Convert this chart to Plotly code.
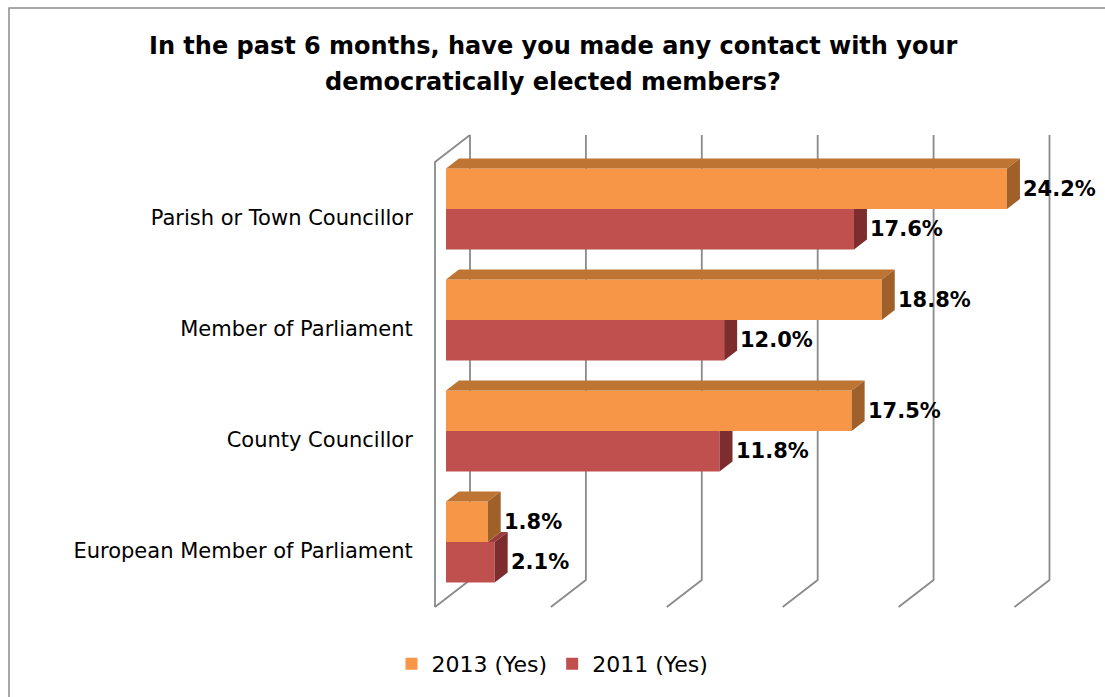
import plotly.graph_objects as go

# Survey results: share answering "Yes"
categories = ["Parish or Town Councillor", "Member of Parliament",
              "County Councillor", "European Member of Parliament"]
yes_2013 = [24.2, 18.8, 17.5, 1.8]
yes_2011 = [17.6, 12.0, 11.8, 2.1]
series_names = ["2013 (Yes)", "2011 (Yes)"]
x_ticks = [0, 5, 10, 15, 20, 25]
title_lines = ["In the past 6 months, have you made any contact with your",
               "democratically elected members?"]

# Colours (front, top, side) for each series
ORANGE = ("#F79646", "#BE7432", "#A0602A")
RED = ("#C0504D", "#9B3D3B", "#7D2D2D")
GRID = "#8A8A8A"
FONT = "DejaVu Sans"

# Pseudo-3D geometry, in axis units
BAR_H = 0.365          # thickness of each bar (y units, 1 = one category)
DEPTH_X = 0.56         # depth offset of bar faces along x (%)
DEPTH_Y = 0.09         # depth offset of bar faces along y
WALL_BACK = 1.035      # back-wall offset of gridlines (%)
WALL_FRONT = -0.475    # front offset of gridlines (%)
TOP_BACK, BOTTOM_BACK = -0.667, 3.342
TOP_FRONT, BOTTOM_FRONT = -0.423, 3.586

W, H = 1105, 697
L, R, T, B = 425, 40, 120, 77
PW, PH = W - L - R, H - T - B
PX_PER_X = 23.18
PX_PER_Y = 111.0
x0 = (L - 446) / PX_PER_X
x_range = [x0, x0 + PW / PX_PER_X]
y_top = (T - 209) / PX_PER_Y
y_bot = y_top + PH / PX_PER_Y


def paper_y(px):
    return (H - B - px) / PH


def paper_x(px):
    return (px - L) / PW


idx = list(range(len(categories)))
fig = go.Figure()

# Front faces of the bars
fig.add_trace(go.Bar(
    y=[i - BAR_H / 2 for i in idx], x=yes_2013, width=BAR_H, orientation="h",
    marker=dict(color=ORANGE[0], line=dict(width=0)), name=series_names[0],
    hoverinfo="skip"))
fig.add_trace(go.Bar(
    y=[i + BAR_H / 2 for i in idx], x=yes_2011, width=BAR_H, orientation="h",
    marker=dict(color=RED[0], line=dict(width=0)), name=series_names[1],
    hoverinfo="skip"))


def poly(xs, ys, color):
    fig.add_trace(go.Scatter(
        x=xs + [xs[0]], y=ys + [ys[0]], mode="lines", fill="toself",
        fillcolor=color, line=dict(width=0), showlegend=False,
        hoverinfo="skip"))


for i, v13, v11 in zip(idx, yes_2013, yes_2011):
    # 2011 top face: only the part beyond the 2013 bar shows
    if v11 > v13:
        poly([v13, v11, v11 + DEPTH_X, v13 + DEPTH_X],
             [i, i, i - DEPTH_Y, i - DEPTH_Y], RED[1])
        poly([v11, v11 + DEPTH_X, v11 + DEPTH_X, v11],
             [i, i - DEPTH_Y, i + BAR_H - DEPTH_Y, i + BAR_H], RED[2])
    else:
        poly([v11, v11 + DEPTH_X, v11 + DEPTH_X, v11],
             [i, i, i + BAR_H - DEPTH_Y, i + BAR_H], RED[2])
    # 2013 top and side faces
    top = i - BAR_H
    poly([0, v13, v13 + DEPTH_X, DEPTH_X],
         [top, top, top - DEPTH_Y, top - DEPTH_Y], ORANGE[1])
    poly([v13, v13 + DEPTH_X, v13 + DEPTH_X, v13],
         [top, top - DEPTH_Y, i - DEPTH_Y, i], ORANGE[2])

# Walls and gridlines
shapes = []
line = dict(color=GRID, width=1.8)
for v in x_ticks:
    shapes.append(dict(type="path", xref="x", yref="y", layer="below",
                       path=f"M {v + WALL_BACK} {TOP_BACK} L {v + WALL_BACK} {BOTTOM_BACK} "
                            f"L {v + WALL_FRONT} {BOTTOM_FRONT}",
                       line=line))
shapes.append(dict(type="path", xref="x", yref="y", layer="below",
                   path=f"M {WALL_BACK} {TOP_BACK} L {WALL_FRONT} {TOP_FRONT} "
                        f"L {WALL_FRONT} {BOTTOM_FRONT}",
                   line=line))
# Chart border (top and left edges visible)
shapes.append(dict(type="rect", xref="paper", yref="paper",
                   x0=paper_x(9), x1=paper_x(W + 30),
                   y0=paper_y(H + 30), y1=paper_y(8),
                   line=dict(color="#8C8C8C", width=1.5)))

# Value labels
annotations = []
for i, v13, v11 in zip(idx, yes_2013, yes_2011):
    for v, yc in ((v13, i - BAR_H / 2), (v11, i + BAR_H / 2)):
        annotations.append(dict(x=v + DEPTH_X, y=yc, xref="x", yref="y",
                                text=f"<b>{v:.1f}%</b>", showarrow=False,
                                xanchor="left", xshift=1,
                                font=dict(family=FONT, size=21, color="#000")))

# Title, two centred lines
for text, py in zip(title_lines, (46, 82)):
    annotations.append(dict(x=paper_x(W / 2), y=paper_y(py), xref="paper",
                            yref="paper", text=f"<b>{text}</b>",
                            showarrow=False, xanchor="center", yanchor="middle",
                            font=dict(family=FONT, size=24, color="#000")))

fig.update_layout(
    width=W, height=H,
    margin=dict(l=L, r=R, t=T, b=B),
    paper_bgcolor="white", plot_bgcolor="white",
    barmode="overlay",
    xaxis=dict(range=x_range, showgrid=False, zeroline=False,
               showticklabels=False, showline=False, fixedrange=True),
    yaxis=dict(range=[y_bot, y_top], showgrid=False, zeroline=False,
               showline=False, tickvals=[i + 0.081 for i in idx],
               ticktext=categories, ticks="outside", ticklen=7,
               tickcolor="rgba(0,0,0,0)",
               tickfont=dict(family=FONT, size=21, color="#000")),
    legend=dict(orientation="h", x=0.5, xref="container", xanchor="center",
                y=1 - 664 / H, yref="container", yanchor="middle",
                font=dict(family=FONT, size=22, color="#000"),
                itemwidth=30, traceorder="normal"),
    shapes=shapes, annotations=annotations,
)

fig.write_html("out.html")
